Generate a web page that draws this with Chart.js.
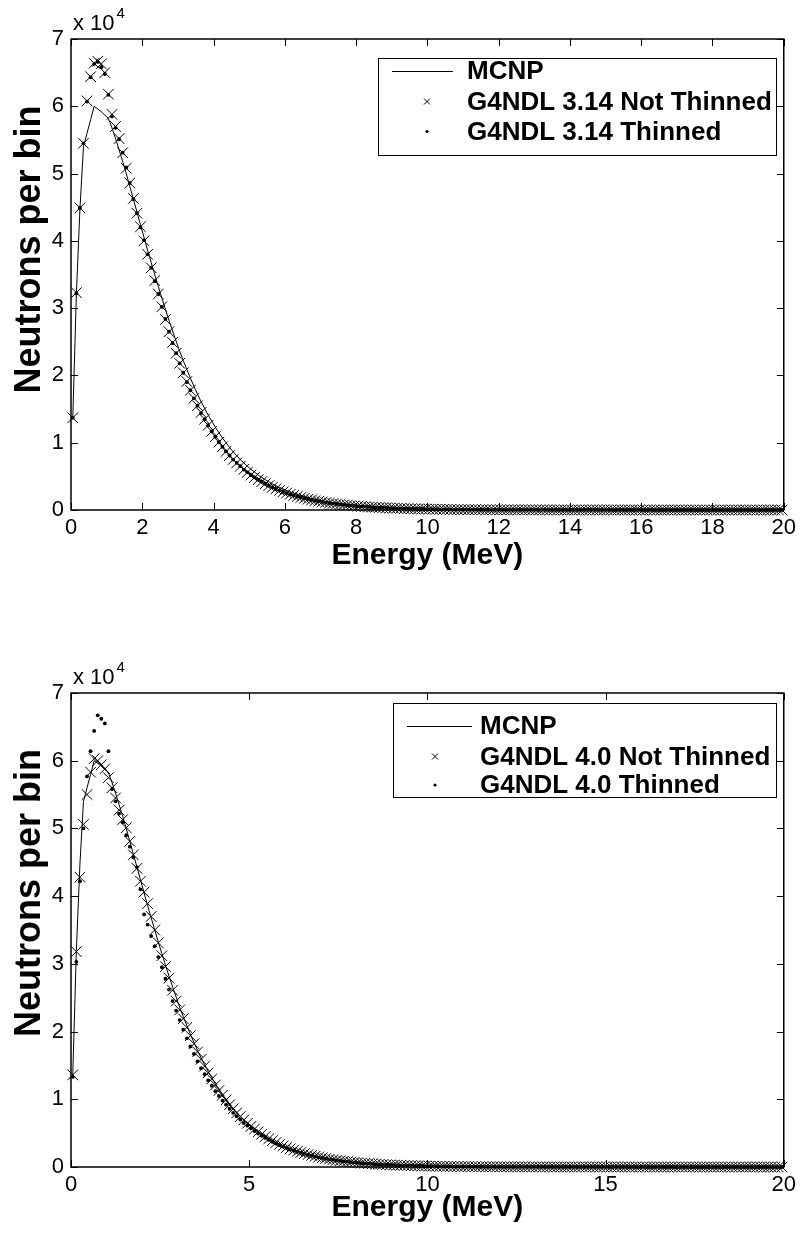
<!DOCTYPE html>
<html>
<head>
<meta charset="utf-8">
<script src="https://cdn.jsdelivr.net/npm/chart.js@4.4.1/dist/chart.umd.min.js"></script>
<style>
  html, body { margin: 0; padding: 0; background: #fff; }
  .wrap { width: 801px; height: 617px; position: relative; }
  canvas { display: block; }
</style>
</head>
<body>
<div class="wrap"><canvas id="chartTop" width="801" height="617" style="width:801px;height:617px"></canvas></div>
<div class="wrap"><canvas id="chartBottom" width="801" height="617" style="width:801px;height:617px"></canvas></div>
<script>
// ---------------- DATA (values in units of 10^4 neutrons per bin) ----------------
const BIN_WIDTH = 0.1;          // MeV, regular energy bins from 0 to 20 MeV
const N_BINS = 200;
const energies = Array.from({length: N_BINS}, (_, i) => +(BIN_WIDTH * (i + 0.5)).toFixed(3));

const xTicksTop = [0, 2, 4, 6, 8, 10, 12, 14, 16, 18, 20];
const xTicksBottom = [0, 5, 10, 15, 20];
const yTicks = [0, 1, 2, 3, 4, 5, 6, 7];

const labelsTop = ['MCNP', 'G4NDL 3.14 Not Thinned', 'G4NDL 3.14 Thinned'];
const labelsBottom = ['MCNP', 'G4NDL 4.0 Not Thinned', 'G4NDL 4.0 Thinned'];

const mcnp = [
  1.37,3.20,4.47,5.40,5.60,5.80,6.00,5.96,5.92,5.87,
  5.82,5.68,5.52,5.35,5.18,5.00,4.81,4.62,4.43,4.24,
  4.05,3.86,3.68,3.50,3.32,3.15,2.98,2.82,2.66,2.51,
  2.36,2.22,2.09,1.96,1.84,1.72,1.61,1.51,1.41,1.32,
  1.23,1.15,1.07,1.00,0.93,0.865,0.805,0.75,0.70,0.65,
  0.605,0.563,0.523,0.486,0.452,0.420,0.390,0.362,0.336,0.312,
  0.290,0.269,0.250,0.232,0.215,0.199,0.185,0.171,0.159,0.147,
  0.136,0.126,0.117,0.108,0.100,0.093,0.086,0.080,0.074,0.068,
  0.063,0.058,0.054,0.050,0.046,0.043,0.040,0.037,0.034,0.031,
  0.029,0.027,0.025,0.023,0.021,0.019,0.018,0.017,0.015,0.014,
  0.013,0.012,0.011,0.010,0.010,0.009,0.008,0.008,0.007,0.006,
  0.006,0.006,0.005,0.005,0.004,0.004,0.004,0.003,0.003,0.003,
  0.003,0.003,0.003,0.002,0.002,0.002,0.002,0.002,0.002,0.002,
  0.002,0.002,0.002,0.001,0.001,0.001,0.001,0.001,0.001,0.001,
  0.001,0.001,0.001,0.001,0.001,0.001,0.001,0.001,0.001,0.001,
  0.001,0.001,0.001,0.001,0.001,0,0.001,0,0.001,0,
  0,0.001,0,0,0,0,0.001,0,0,0,
  0,0,0,0,0,0,0,0,0,0,
  0,0,0,0,0,0,0,0,0,0,
  0,0,0,0,0,0,0,0,0,0
];

const g4ndl314NotThinned = [
  1.37,3.23,4.49,5.45,6.08,6.44,6.64,6.67,6.63,6.50,
  6.18,5.88,5.70,5.52,5.31,5.08,4.86,4.63,4.41,4.21,
  4.00,3.80,3.60,3.41,3.21,3.02,2.83,2.65,2.49,2.33,
  2.18,2.04,1.91,1.78,1.66,1.55,1.45,1.35,1.26,1.17,
  1.09,1.01,0.94,0.87,0.81,0.75,0.70,0.65,0.605,0.56,
  0.52,0.485,0.45,0.42,0.39,0.362,0.337,0.313,0.291,0.270,
  0.251,0.233,0.217,0.201,0.187,0.174,0.161,0.150,0.139,0.129,
  0.120,0.111,0.103,0.096,0.089,0.083,0.077,0.071,0.066,0.061,
  0.057,0.053,0.049,0.045,0.042,0.039,0.036,0.034,0.031,0.029,
  0.027,0.025,0.023,0.021,0.020,0.018,0.017,0.016,0.015,0.014,
  0.013,0.012,0.011,0.010,0.009,0.009,0.008,0.007,0.007,0.006,
  0.006,0.005,0.005,0.005,0.004,0.004,0.004,0.003,0.003,0.003,
  0.003,0.003,0.002,0.003,0.002,0.002,0.002,0.002,0.002,0.002,
  0.002,0.001,0.002,0.001,0.001,0.001,0.001,0.001,0.001,0.001,
  0.001,0.001,0.001,0.001,0.001,0.001,0.001,0.001,0.001,0.001,
  0.001,0.001,0,0.001,0.001,0,0.001,0,0,0.001,
  0,0,0.001,0,0,0,0,0.001,0,0,
  0,0,0,0,0,0,0,0,0,0,
  0,0,0,0,0,0,0,0,0,0,
  0,0,0,0,0,0,0,0,0,0
];

const g4ndl314Thinned = [
  1.37,3.22,4.49,5.45,6.07,6.43,6.63,6.66,6.58,6.48,
  6.17,5.85,5.68,5.51,5.31,5.09,4.86,4.62,4.41,4.20,
  4.01,3.80,3.60,3.40,3.21,3.02,2.84,2.65,2.48,2.33,
  2.18,2.04,1.90,1.78,1.66,1.55,1.44,1.35,1.26,1.17,
  1.09,1.01,0.94,0.87,0.81,0.75,0.70,0.65,0.60,0.56,
  0.52,0.484,0.45,0.42,0.39,0.362,0.336,0.313,0.290,0.270,
  0.251,0.233,0.216,0.201,0.187,0.173,0.161,0.150,0.139,0.129,
  0.120,0.111,0.103,0.096,0.089,0.083,0.077,0.071,0.066,0.061,
  0.057,0.053,0.049,0.045,0.042,0.039,0.036,0.034,0.031,0.029,
  0.027,0.025,0.023,0.021,0.020,0.018,0.017,0.016,0.015,0.014,
  0.013,0.012,0.011,0.010,0.009,0.009,0.008,0.007,0.007,0.006,
  0.006,0.005,0.005,0.005,0.004,0.004,0.004,0.003,0.003,0.003,
  0.003,0.003,0.002,0.003,0.002,0.002,0.002,0.002,0.002,0.002,
  0.002,0.001,0.002,0.001,0.001,0.001,0.001,0.001,0.001,0.001,
  0.001,0.001,0.001,0.001,0.001,0.001,0.001,0.001,0.001,0.001,
  0.001,0.001,0,0.001,0.001,0,0.001,0,0,0.001,
  0,0,0.001,0,0,0,0,0.001,0,0,
  0,0,0,0,0,0,0,0,0,0,
  0,0,0,0,0,0,0,0,0,0,
  0,0,0,0,0,0,0,0,0,0
];

const g4ndl40NotThinned = [
  1.36,3.18,4.28,5.06,5.50,5.83,6.03,6.00,5.94,5.88,
  5.75,5.60,5.45,5.27,5.13,5.01,4.81,4.61,4.41,4.22,
  4.06,3.89,3.70,3.50,3.31,3.12,2.96,2.79,2.61,2.45,
  2.32,2.19,2.06,1.94,1.82,1.70,1.59,1.49,1.39,1.30,
  1.21,1.13,1.06,0.99,0.92,0.86,0.80,0.745,0.695,0.645,
  0.60,0.56,0.52,0.484,0.450,0.418,0.388,0.360,0.334,0.310,
  0.288,0.268,0.249,0.231,0.214,0.199,0.184,0.171,0.158,0.147,
  0.136,0.126,0.116,0.108,0.100,0.093,0.086,0.080,0.074,0.068,
  0.063,0.058,0.054,0.050,0.046,0.043,0.040,0.037,0.034,0.031,
  0.029,0.027,0.025,0.023,0.021,0.019,0.018,0.017,0.015,0.014,
  0.013,0.012,0.011,0.010,0.010,0.009,0.008,0.008,0.007,0.006,
  0.006,0.006,0.005,0.005,0.004,0.004,0.004,0.003,0.003,0.003,
  0.003,0.003,0.003,0.002,0.002,0.002,0.002,0.002,0.002,0.002,
  0.002,0.002,0.001,0.001,0.002,0.001,0.001,0.001,0.001,0.001,
  0.001,0.001,0.001,0.001,0.001,0.001,0.001,0.001,0.001,0.001,
  0.001,0.001,0.001,0,0.001,0,0.001,0,0.001,0,
  0,0.001,0,0,0,0,0,0,0.001,0,
  0,0,0,0,0,0,0,0,0,0,
  0,0,0,0,0,0,0,0,0,0,
  0,0,0,0,0,0,0,0,0,0
];

const g4ndl40Thinned = [
  1.33,3.03,4.22,5.00,5.77,6.14,6.44,6.67,6.62,6.55,
  6.14,5.58,5.40,5.22,5.09,4.90,4.73,4.57,4.43,4.10,
  3.73,3.58,3.41,3.26,3.10,2.95,2.78,2.62,2.45,2.31,
  2.17,2.03,1.90,1.78,1.67,1.56,1.46,1.37,1.28,1.20,
  1.12,1.05,0.98,0.92,0.86,0.80,0.75,0.70,0.65,0.61,
  0.57,0.53,0.495,0.46,0.43,0.40,0.372,0.346,0.322,0.300,
  0.279,0.259,0.241,0.224,0.208,0.193,0.179,0.166,0.154,0.143,
  0.133,0.123,0.114,0.106,0.098,0.091,0.084,0.078,0.072,0.067,
  0.062,0.057,0.053,0.049,0.045,0.042,0.039,0.036,0.033,0.031,
  0.028,0.026,0.024,0.022,0.021,0.019,0.017,0.016,0.015,0.014,
  0.013,0.012,0.011,0.010,0.009,0.009,0.008,0.007,0.007,0.006,
  0.006,0.005,0.005,0.005,0.004,0.004,0.004,0.003,0.003,0.003,
  0.003,0.002,0.003,0.002,0.002,0.002,0.002,0.002,0.002,0.002,
  0.002,0.001,0.002,0.001,0.001,0.001,0.001,0.001,0.001,0.001,
  0.001,0.001,0.001,0.001,0.001,0.001,0.001,0.001,0.001,0.001,
  0.001,0,0.001,0.001,0,0.001,0,0.001,0,0,
  0.001,0,0,0,0.001,0,0,0,0,0,
  0,0,0,0,0,0,0,0,0,0,
  0,0,0,0,0,0,0,0,0,0,
  0,0,0,0,0,0,0,0,0,0
];

// ---------------- STYLE ----------------
const FONT = "'Liberation Sans', Arial, Helvetica, sans-serif";
const NARROW = "'Liberation Sans Narrow', 'Arial Narrow', 'Liberation Sans', Arial, sans-serif";
Chart.defaults.font.family = FONT;
Chart.defaults.color = '#000';

function toXY(vals) { return energies.map((e, i) => ({x: e, y: vals[i]})); }

const framePlugin = {
  id: 'matlabFrame',
  afterDatasetsDraw(chart, args, opts) {
    const {ctx, chartArea: a, scales: {x, y}} = chart;
    ctx.save();
    ctx.strokeStyle = '#000';
    // inward ticks on all four sides
    ctx.lineWidth = 1;
    const tl = 7;
    ctx.beginPath();
    x.ticks.forEach(t => {
      const px = Math.round(x.getPixelForValue(t.value)) + 0.5;
      ctx.moveTo(px, a.bottom); ctx.lineTo(px, a.bottom - tl);
      ctx.moveTo(px, a.top); ctx.lineTo(px, a.top + tl);
    });
    y.ticks.forEach(t => {
      const py = Math.round(y.getPixelForValue(t.value)) + 0.5;
      ctx.moveTo(a.left, py); ctx.lineTo(a.left + tl, py);
      ctx.moveTo(a.right, py); ctx.lineTo(a.right - tl, py);
    });
    ctx.stroke();
    ctx.lineWidth = 1.5;
    ctx.strokeRect(a.left, a.top, a.right - a.left, a.bottom - a.top);

    // exponent label  "x 10^4"
    ctx.fillStyle = '#000';
    ctx.textBaseline = 'middle';
    ctx.textAlign = 'left';
    ctx.font = '22px ' + NARROW;
    const ex = a.left + 2, ey = a.top - 15;
    ctx.fillText('x 10', ex, ey);
    const w = ctx.measureText('x 10').width;
    ctx.font = '15px ' + NARROW;
    ctx.fillText('4', ex + w + 2, ey - 10);

    // y axis title
    ctx.save();
    ctx.translate(opts.yTitle.x, (a.top + a.bottom) / 2 + opts.yTitle.dy);
    ctx.rotate(-Math.PI / 2);
    ctx.textAlign = 'center';
    ctx.textBaseline = 'middle';
    ctx.font = 'bold ' + opts.yTitle.size + 'px ' + FONT;
    ctx.fillText(opts.yTitle.text, 0, 0);
    ctx.restore();

    // legend
    const L = opts.legend;
    ctx.fillStyle = '#fff';
    ctx.fillRect(L.x, L.y, L.w, L.h);
    ctx.lineWidth = 1;
    ctx.strokeStyle = '#000';
    ctx.strokeRect(L.x + 0.5, L.y + 0.5, L.w, L.h);
    chart.data.datasets.forEach((ds, i) => {
      const cy = L.rows[i];
      ctx.fillStyle = '#000';
      if (ds.showLine) {
        ctx.beginPath();
        ctx.moveTo(L.lineX0, cy + 0.5); ctx.lineTo(L.lineX1, cy + 0.5);
        ctx.lineWidth = 1; ctx.stroke();
      } else if (ds.pointStyle === 'crossRot') {
        const r = 3;
        ctx.beginPath();
        ctx.moveTo(L.markX - r, cy - r); ctx.lineTo(L.markX + r, cy + r);
        ctx.moveTo(L.markX + r, cy - r); ctx.lineTo(L.markX - r, cy + r);
        ctx.lineWidth = 1; ctx.stroke();
      } else {
        ctx.beginPath();
        ctx.arc(L.markX, cy, 1.6, 0, Math.PI * 2);
        ctx.fill();
      }
      ctx.font = 'bold ' + L.fontSize + 'px ' + FONT;
      ctx.textAlign = 'left';
      ctx.textBaseline = 'middle';
      ctx.fillText(ds.label, L.textX, cy + 1);
    });
    ctx.restore();
  }
};

function makeChart(id, cfg) {
  const [m, nt, th] = cfg.series;
  return new Chart(document.getElementById(id), {
    type: 'scatter',
    data: {
      datasets: [
        { label: cfg.labels[0], data: toXY(m), showLine: true, pointRadius: 0,
          borderColor: '#000', borderWidth: 1, tension: 0, clip: false },
        { label: cfg.labels[1], data: toXY(nt), showLine: false, pointStyle: 'crossRot',
          pointRadius: 7.5, borderColor: '#000', borderWidth: 1, backgroundColor: 'rgba(0,0,0,0)', clip: false },
        { label: cfg.labels[2], data: toXY(th), showLine: false, pointStyle: 'circle',
          pointRadius: 1.9, borderWidth: 0, backgroundColor: '#000', clip: false }
      ]
    },
    options: {
      responsive: false,
      animation: false,
      events: [],
      layout: { padding: { left: 0, right: 16, top: cfg.padTop, bottom: 0 } },
      plugins: {
        legend: { display: false },
        tooltip: { enabled: false },
        matlabFrame: { legend: cfg.legend,
                       yTitle: { text: 'Neutrons per bin', x: 30, dy: cfg.yTitleDy, size: 36 } }
      },
      scales: {
        x: {
          type: 'linear', min: 0, max: 20,
          afterBuildTicks(s) { s.ticks = cfg.xTicks.map(v => ({value: v})); },
          ticks: { color: '#000', font: { size: 22, family: NARROW }, padding: 5, maxRotation: 0, autoSkip: false },
          grid: { display: false, drawTicks: false },
          border: { display: false },
          title: { display: true, text: 'Energy (MeV)', color: '#000',
                   font: { size: 30, weight: 'bold' }, padding: { top: 0, bottom: cfg.xTitlePad } },
          afterFit(s) { s.height = cfg.xAxisH; }
        },
        y: {
          type: 'linear', min: 0, max: 7,
          afterBuildTicks(s) { s.ticks = yTicks.map(v => ({value: v})); },
          ticks: { color: '#000', font: { size: 22, family: NARROW }, padding: 7, autoSkip: false },
          grid: { display: false, drawTicks: false },
          border: { display: false },
          title: { display: false },
          afterFit(s) { s.width = 71; }
        }
      }
    },
    plugins: [framePlugin]
  });
}

makeChart('chartTop', {
  series: [mcnp, g4ndl314NotThinned, g4ndl314Thinned],
  labels: labelsTop,
  xTicks: xTicksTop,
  padTop: 39, xAxisH: 107, xTitlePad: 43, yTitleDy: -25,
  legend: { x: 378, y: 58, w: 398, h: 97, rows: [71, 101.5, 131.5],
            lineX0: 392, lineX1: 453, markX: 427, textX: 467, fontSize: 26 }
});

makeChart('chartBottom', {
  series: [mcnp, g4ndl40NotThinned, g4ndl40Thinned],
  labels: labelsBottom,
  xTicks: xTicksBottom,
  padTop: 76, xAxisH: 67, xTitlePad: 8, yTitleDy: -37,
  legend: { x: 393, y: 86, w: 383, h: 94, rows: [109, 139.5, 168],
            lineX0: 407, lineX1: 472, markX: 435, textX: 480, fontSize: 26 }
});
</script>
</body>
</html>
